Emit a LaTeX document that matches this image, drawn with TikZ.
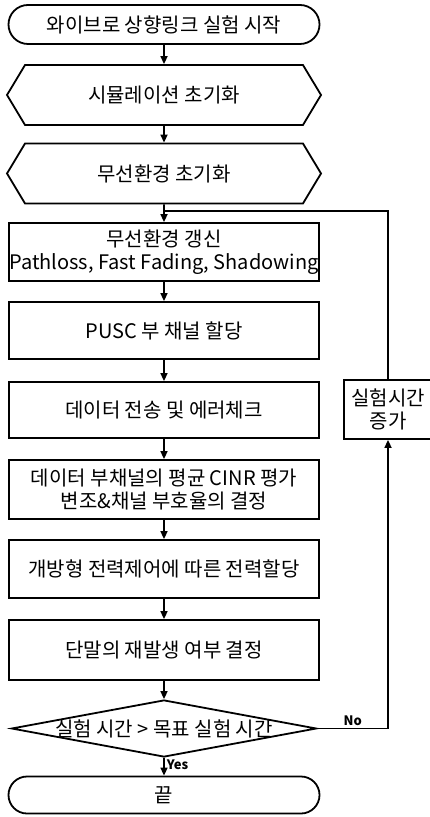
\documentclass[tikz,border=0pt]{standalone}
\usepackage{fontspec}
\setmainfont{Noto Sans CJK KR}
\usetikzlibrary{shapes.misc,shapes.symbols,shapes.geometric,arrows.meta}

\begin{document}
\begin{tikzpicture}[x=0.5pt,y=-0.5pt,
  every node/.style={font=\fontsize{10}{11.3}\selectfont},
  term/.style={rounded rectangle,draw,line width=0.9pt,minimum width=155.5pt,minimum height=19.5pt,inner sep=0},
  prep/.style={signal,signal to=west and east,signal pointer angle=118,draw,line width=0.9pt,minimum width=157pt,minimum height=30pt,inner sep=0},
  proc/.style={rectangle,draw,line width=0.9pt,minimum width=155pt,minimum height=#1,align=center,inner sep=0},
  proc/.default=29pt,
  decision/.style={diamond,draw,line width=0.9pt,minimum width=152.5pt,minimum height=28.5pt,inner sep=0},
  flow/.style={-{Triangle[length=4pt,width=3.5pt]},line width=0.8pt},
  answer/.style={font=\fontsize{6.5}{7}\selectfont\bfseries,inner sep=1pt}]
\useasboundingbox (0,0) rectangle (429,817);
\node[term] (start) at (164,24.5) {와이브로 상향링크 실험 시작};
\node[prep] (simi) at (164,95) {시뮬레이션 초기화};
\node[prep] (envi) at (164,173.5) {무선환경 초기화};
\node[proc=29pt] (upd) at (164,252) {무선환경 갱신\\Pathloss, Fast Fading, Shadowing};
\node[proc=28.5pt] (pusc) at (164,330.5) {PUSC 부 채널 할당};
\node[proc=28pt] (tx) at (164,410) {데이터 전송 및 에러체크};
\node[proc=29.5pt] (cinr) at (164,489.5) {데이터 부채널의 평균 CINR 평가\\변조\&채널 부호율의 결정};
\node[proc=29pt] (pwr) at (164,569) {개방형 전력제어에 따른 전력할당};
\node[proc=30pt] (regen) at (164,650) {단말의 재발생 여부 결정};
\node[decision,label=center:{실험 시간 > 목표 실험 시간}] (dec) at (164,728.5) {};
\node[term,minimum height=18.5pt] (end) at (164,795) {끝};
\node[proc=29.5pt,minimum width=44pt] (inc) at (388,409.5) {실험시간\\증가};
\coordinate (join) at (164,211);

% main flow
\draw[flow] (start) -- (simi);
\draw[flow] (simi) -- (envi);
\draw[flow] (envi) -- (upd);
\draw[flow] (upd) -- (pusc);
\draw[flow] (pusc) -- (tx);
\draw[flow] (tx) -- (cinr);
\draw[flow] (cinr) -- (pwr);
\draw[flow] (pwr) -- (regen);
\draw[flow] (regen) -- (dec);
\draw[flow] (dec) -- node[answer,right,pos=0.4] {Yes} (end);

% loop back
\draw[flow] (dec.east) -| node[answer,above,pos=0.25] {No} (inc.south);
\draw[line width=0.8pt] (inc.north) |- (join);
\end{tikzpicture}
\end{document}
